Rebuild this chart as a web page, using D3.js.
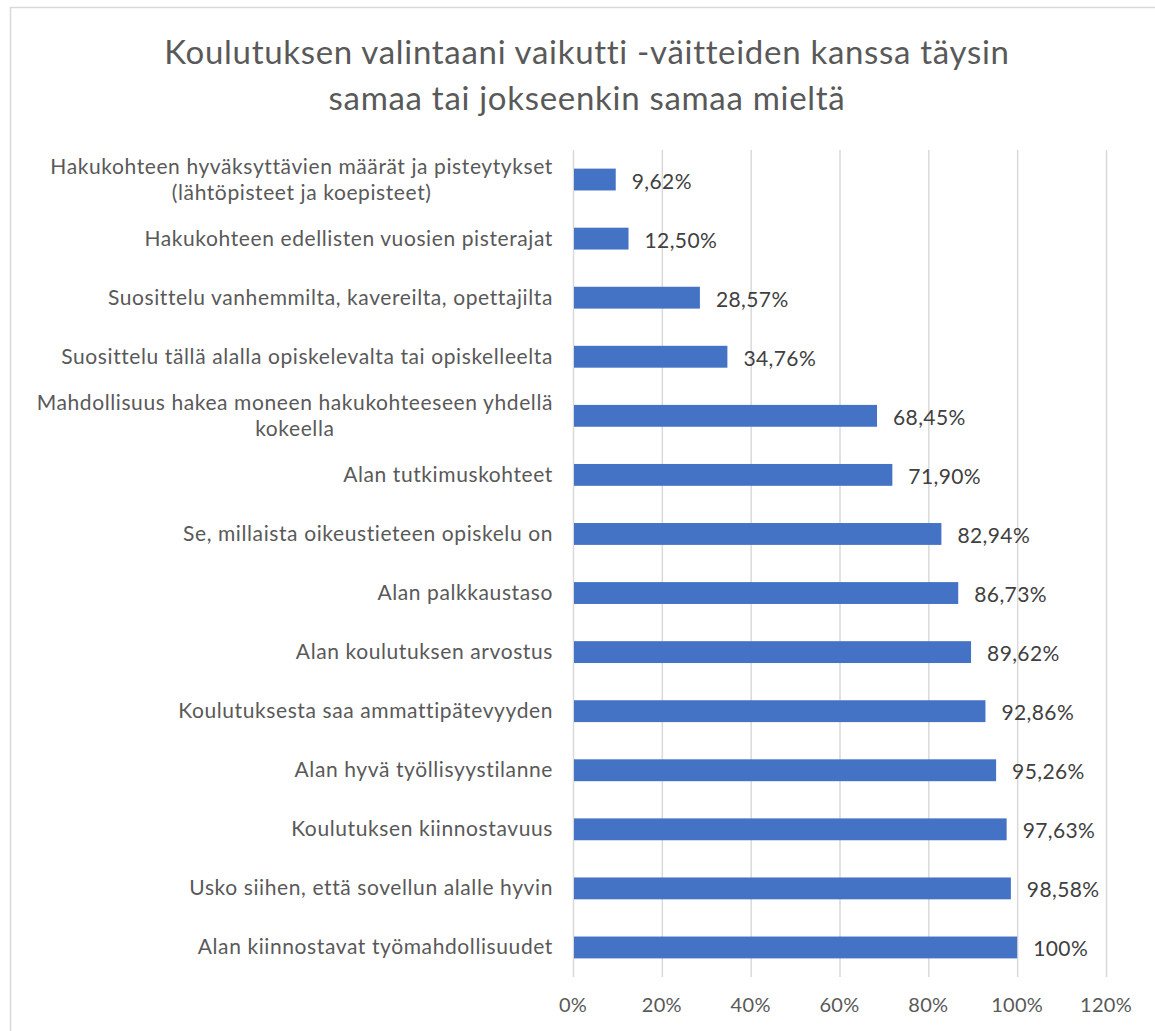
<!DOCTYPE html>
<html><head><meta charset="utf-8">
<script src="https://cdn.jsdelivr.net/npm/d3@7"></script>
<style>body{margin:0;background:#fff}svg{display:block}text{font-family:Lato,"Open Sans",sans-serif}</style>
</head><body>
<svg id="c" width="1155" height="1031"></svg>
<script>
const titleLines = ["Koulutuksen valintaani vaikutti -väitteiden kanssa täysin", "samaa tai jokseenkin samaa mieltä"];
const categories = [
  ["Hakukohteen hyväksyttävien määrät ja pisteytykset", "(lähtöpisteet ja koepisteet)"],
  ["Hakukohteen edellisten vuosien pisterajat"],
  ["Suosittelu vanhemmilta, kavereilta, opettajilta"],
  ["Suosittelu tällä alalla opiskelevalta tai opiskelleelta"],
  ["Mahdollisuus hakea moneen hakukohteeseen yhdellä", "kokeella"],
  ["Alan tutkimuskohteet"],
  ["Se, millaista oikeustieteen opiskelu on"],
  ["Alan palkkaustaso"],
  ["Alan koulutuksen arvostus"],
  ["Koulutuksesta saa ammattipätevyyden"],
  ["Alan hyvä työllisyystilanne"],
  ["Koulutuksen kiinnostavuus"],
  ["Usko siihen, että sovellun alalle hyvin"],
  ["Alan kiinnostavat työmahdollisuudet"]
];
const values = [9.62, 12.50, 28.57, 34.76, 68.45, 71.90, 82.94, 86.73, 89.62, 92.86, 95.26, 97.63, 98.58, 100];
const valueLabels = ["9,62%", "12,50%", "28,57%", "34,76%", "68,45%", "71,90%", "82,94%", "86,73%", "89,62%", "92,86%", "95,26%", "97,63%", "98,58%", "100%"];
const ticks = [0, 20, 40, 60, 80, 100, 120];

const svg = d3.select("#c");
const textCol = "#595959";
svg.append("rect").attr("x", 10.5).attr("y", 7.5).attr("width", 1160).attr("height", 1040)
  .attr("fill", "#fff").attr("stroke", "#d9d9d9").attr("stroke-width", 1.5);

const x = d3.scaleLinear().domain([0, 120]).range([573, 1106]);
const y = d3.scaleBand().domain(d3.range(categories.length)).range([150, 977]).paddingInner(0.63).paddingOuter(0.315);

svg.append("g").selectAll("line").data(ticks).join("line")
  .attr("x1", d => x(d) + 0.5).attr("x2", d => x(d) + 0.5).attr("y1", 150).attr("y2", 977)
  .attr("stroke", "#d9d9d9").attr("stroke-width", 1.5);

svg.append("g").selectAll("text").data(ticks).join("text")
  .attr("x", d => x(d)).attr("y", 1012).attr("text-anchor", "middle")
  .attr("fill", textCol).attr("font-size", 20).attr("letter-spacing", 0.3).text(d => d + "%");

svg.append("g").selectAll("rect").data(values).join("rect")
  .attr("x", x(0) + 1).attr("y", (d, i) => y(i)).attr("height", y.bandwidth())
  .attr("width", d => x(d) - x(0) - 1).attr("fill", "#4472c4");

svg.append("g").selectAll("text").data(values).join("text")
  .attr("x", d => x(d) + 16).attr("y", (d, i) => y(i) + y.bandwidth() / 2 + 9)
  .attr("fill", "#404040").attr("font-size", 21).attr("letter-spacing", 0.4).text((d, i) => valueLabels[i]);

const cat = svg.append("g").selectAll("text").data(categories).join("text")
  .attr("text-anchor", "middle").attr("fill", textCol).attr("font-size", 21).attr("letter-spacing", 0.6);
cat.each(function(lines, i) {
  const t = d3.select(this);
  const cy = y(i) + y.bandwidth() / 2;
  const n = lines.length;
  const lh = 26;
  lines.forEach((l, k) => {
    t.append("tspan").attr("y", cy + 7 + (k - (n - 1) / 2) * lh).text(l);
  });
});
cat.each(function() {
  const t = d3.select(this);
  const spans = t.selectAll("tspan").nodes();
  const widths = spans.map(s => s.getComputedTextLength());
  const mw = d3.max(widths);
  const cx = 553 - mw / 2;
  spans.forEach(s => d3.select(s).attr("x", cx));
});

svg.append("g").selectAll("text").data(titleLines).join("text")
  .attr("x", 587).attr("y", (d, i) => 64 + i * 46).attr("text-anchor", "middle")
  .attr("fill", textCol).attr("font-size", 33).attr("letter-spacing", 0.7).text(d => d);
</script>
</body></html>
